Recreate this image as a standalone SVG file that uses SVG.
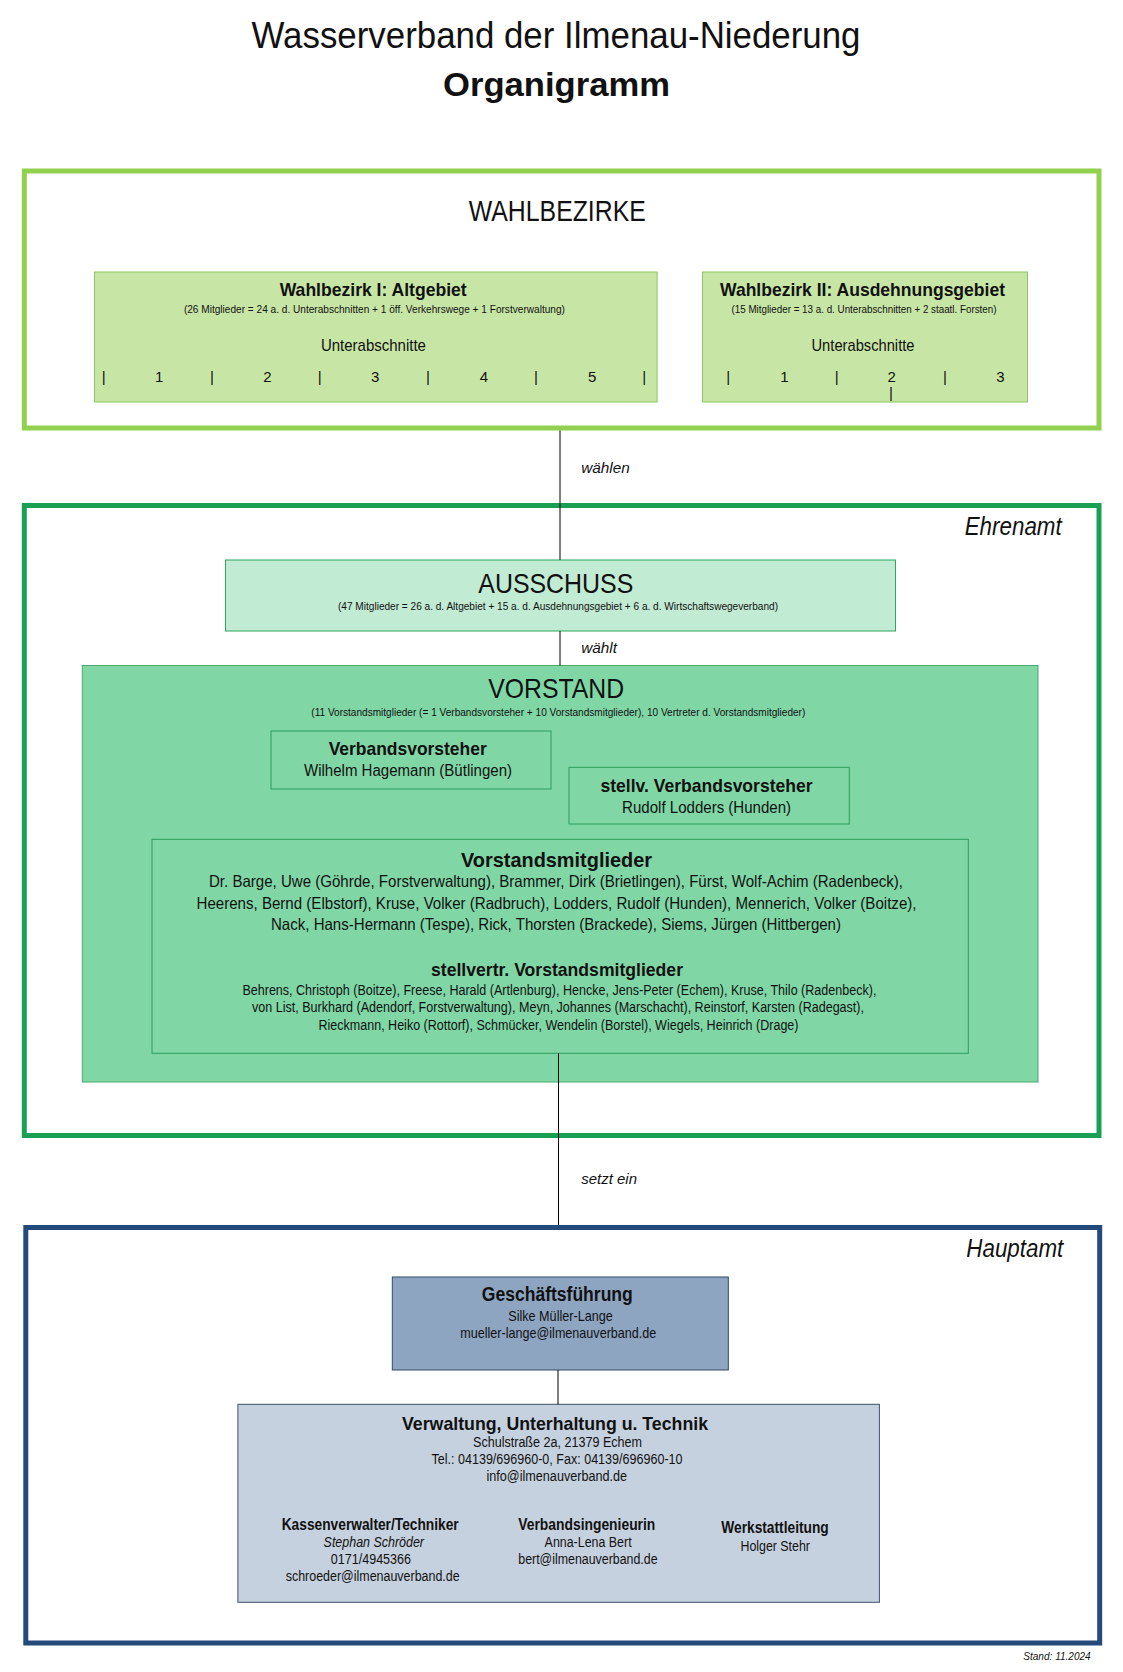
<svg xmlns="http://www.w3.org/2000/svg" width="1123" height="1672" viewBox="0 0 1123 1672">
<style>
text{font-family:"Liberation Sans",Arial,sans-serif;fill:#111;text-anchor:middle}
.b{font-weight:bold}
.i{font-style:italic}
.l{text-anchor:start}
.r{text-anchor:end}
.outer{fill:none;stroke-width:5}
.con{stroke:#000;stroke-width:1;fill:none}
.wb{fill:#C7E6A5;stroke:#8DC663;stroke-width:1}
.vb{fill:none;stroke:#2E9C5A;stroke-width:1}
</style>
<rect width="1123" height="1672" fill="#fff"/>

<g id="title">
<text x="556" y="48" font-size="37" textLength="609" lengthAdjust="spacingAndGlyphs">Wasserverband der Ilmenau-Niederung</text>
<text x="556.5" y="96" font-size="33" class="b" textLength="227" lengthAdjust="spacingAndGlyphs">Organigramm</text>
</g>

<g id="wahlbezirke">
<rect class="outer" x="24.3" y="171" width="1074.7" height="257" stroke="#92D050"/>
<text x="557.3" y="221" font-size="30" textLength="177" lengthAdjust="spacingAndGlyphs">WAHLBEZIRKE</text>
</g>

<g id="wahlbezirk1">
<rect class="wb" x="94.5" y="272" width="562.6" height="130"/>
<text x="373.2" y="296" font-size="18.5" class="b" textLength="187" lengthAdjust="spacingAndGlyphs">Wahlbezirk I: Altgebiet</text>
<text x="374.4" y="312.5" font-size="11" textLength="381" lengthAdjust="spacingAndGlyphs">(26 Mitglieder = 24 a. d. Unterabschnitten + 1 öff. Verkehrswege + 1 Forstverwaltung)</text>
<text x="373.4" y="351" font-size="17" textLength="105" lengthAdjust="spacingAndGlyphs">Unterabschnitte</text>
<g font-size="15">
<text x="103.7" y="381.5">|</text><text x="159.1" y="381.5">1</text>
<text x="211.9" y="381.5">|</text><text x="267.3" y="381.5">2</text>
<text x="319.7" y="381.5">|</text><text x="375.1" y="381.5">3</text>
<text x="427.9" y="381.5">|</text><text x="484" y="381.5">4</text>
<text x="536" y="381.5">|</text><text x="592.2" y="381.5">5</text>
<text x="644.2" y="381.5">|</text>
</g>
</g>

<g id="wahlbezirk2">
<rect class="wb" x="702.5" y="272" width="325" height="130"/>
<text x="862.5" y="296" font-size="18.5" class="b" textLength="285" lengthAdjust="spacingAndGlyphs">Wahlbezirk II: Ausdehnungsgebiet</text>
<text x="864" y="312.5" font-size="11" textLength="265" lengthAdjust="spacingAndGlyphs">(15 Mitglieder = 13 a. d. Unterabschnitten + 2 staatl. Forsten)</text>
<text x="863" y="351" font-size="17" textLength="103" lengthAdjust="spacingAndGlyphs">Unterabschnitte</text>
<g font-size="15">
<text x="728.3" y="381.5">|</text><text x="784.5" y="381.5">1</text>
<text x="836.7" y="381.5">|</text><text x="891.7" y="381.5">2</text>
<text x="945" y="381.5">|</text><text x="1000.5" y="381.5">3</text>
<text x="891" y="398">|</text>
</g>
</g>

<g id="ehrenamt">
<rect class="outer" x="24.3" y="505.5" width="1074.7" height="630" stroke="#19A052"/>
<text x="1061.7" y="535" font-size="25" class="i r" textLength="97" lengthAdjust="spacingAndGlyphs">Ehrenamt</text>
</g>

<g id="ausschuss">
<rect x="225.5" y="560" width="670" height="71" fill="#C1EBD2" stroke="#2EA55E" stroke-width="1"/>
<text x="555.8" y="593" font-size="28" textLength="155" lengthAdjust="spacingAndGlyphs">AUSSCHUSS</text>
<text x="558" y="609.5" font-size="11" textLength="440" lengthAdjust="spacingAndGlyphs">(47 Mitglieder = 26 a. d. Altgebiet + 15 a. d. Ausdehnungsgebiet + 6 a. d. Wirtschaftswegeverband)</text>
</g>

<g id="vorstand">
<rect x="82.3" y="665.5" width="955.7" height="416.5" fill="#80D7A5" stroke="#4AA86C" stroke-width="1"/>
<text x="556.2" y="698" font-size="28" textLength="136" lengthAdjust="spacingAndGlyphs">VORSTAND</text>
<text x="558.3" y="716" font-size="11" textLength="494" lengthAdjust="spacingAndGlyphs">(11 Vorstandsmitglieder (= 1 Verbandsvorsteher + 10 Vorstandsmitglieder), 10 Vertreter d. Vorstandsmitglieder)</text>
</g>

<g id="verbandsvorsteher">
<rect class="vb" x="271" y="731" width="280" height="58"/>
<text x="407.7" y="755" font-size="18.5" class="b" textLength="158" lengthAdjust="spacingAndGlyphs">Verbandsvorsteher</text>
<text x="408" y="775.5" font-size="16" textLength="208" lengthAdjust="spacingAndGlyphs">Wilhelm Hagemann (Bütlingen)</text>
</g>

<g id="stellv-verbandsvorsteher">
<rect class="vb" x="569" y="767.3" width="280.3" height="56.7"/>
<text x="706.5" y="791.5" font-size="18.5" class="b" textLength="212" lengthAdjust="spacingAndGlyphs">stellv. Verbandsvorsteher</text>
<text x="706.6" y="812.5" font-size="16" textLength="169" lengthAdjust="spacingAndGlyphs">Rudolf Lodders (Hunden)</text>
</g>

<g id="vorstandsmitglieder">
<rect class="vb" x="152" y="839.3" width="816.3" height="214"/>
<text x="556.5" y="866.5" font-size="20.5" class="b" textLength="191" lengthAdjust="spacingAndGlyphs">Vorstandsmitglieder</text>
<text x="556" y="887" font-size="16.5" textLength="694" lengthAdjust="spacingAndGlyphs">Dr. Barge, Uwe (Göhrde, Forstverwaltung), Brammer, Dirk (Brietlingen), Fürst, Wolf-Achim (Radenbeck),</text>
<text x="556.5" y="908.5" font-size="16.5" textLength="720" lengthAdjust="spacingAndGlyphs">Heerens, Bernd (Elbstorf), Kruse, Volker (Radbruch), Lodders, Rudolf (Hunden), Mennerich, Volker (Boitze),</text>
<text x="556" y="930" font-size="16.5" textLength="570" lengthAdjust="spacingAndGlyphs">Nack, Hans-Hermann (Tespe), Rick, Thorsten (Brackede), Siems, Jürgen (Hittbergen)</text>
<text x="557" y="976" font-size="19" class="b" textLength="252" lengthAdjust="spacingAndGlyphs">stellvertr. Vorstandsmitglieder</text>
<text x="559.4" y="994.5" font-size="14" textLength="634" lengthAdjust="spacingAndGlyphs">Behrens, Christoph (Boitze), Freese, Harald (Artlenburg), Hencke, Jens-Peter (Echem), Kruse, Thilo (Radenbeck),</text>
<text x="558" y="1011.5" font-size="14" textLength="612" lengthAdjust="spacingAndGlyphs">von List, Burkhard (Adendorf, Forstverwaltung), Meyn, Johannes (Marschacht), Reinstorf, Karsten (Radegast),</text>
<text x="558.5" y="1029.5" font-size="14" textLength="480" lengthAdjust="spacingAndGlyphs">Rieckmann, Heiko (Rottorf), Schmücker, Wendelin (Borstel), Wiegels, Heinrich (Drage)</text>
</g>

<g id="hauptamt">
<rect class="outer" x="25.8" y="1227.5" width="1073.9" height="415.5" stroke="#234A78" stroke-width="5.5"/>
<text x="1063.3" y="1256.5" font-size="25" class="i r" textLength="97" lengthAdjust="spacingAndGlyphs">Hauptamt</text>
</g>

<g id="geschaeftsfuehrung">
<rect x="392.3" y="1277" width="336" height="93" fill="#8EA5C1" stroke="#2E4A6A" stroke-width="1"/>
<text x="557.3" y="1301" font-size="20" class="b" textLength="151" lengthAdjust="spacingAndGlyphs">Geschäftsführung</text>
<text x="560.5" y="1320.5" font-size="14.5" textLength="104.5" lengthAdjust="spacingAndGlyphs">Silke Müller-Lange</text>
<text x="558.3" y="1337.5" font-size="14.5" textLength="196" lengthAdjust="spacingAndGlyphs">mueller-lange@ilmenauverband.de</text>
</g>

<g id="verwaltung">
<rect x="237.9" y="1404.3" width="641.5" height="198" fill="#C6D1DF" stroke="#3D5169" stroke-width="1"/>
<text x="555" y="1430" font-size="18.5" class="b" textLength="306" lengthAdjust="spacingAndGlyphs">Verwaltung, Unterhaltung u. Technik</text>
<text x="557.5" y="1446.5" font-size="14" textLength="169" lengthAdjust="spacingAndGlyphs">Schulstraße 2a, 21379 Echem</text>
<text x="557" y="1463.5" font-size="14" textLength="251" lengthAdjust="spacingAndGlyphs">Tel.: 04139/696960-0, Fax: 04139/696960-10</text>
<text x="556.8" y="1481" font-size="14" textLength="140.6" lengthAdjust="spacingAndGlyphs">info@ilmenauverband.de</text>
<text x="370.2" y="1530" font-size="16" class="b" textLength="177" lengthAdjust="spacingAndGlyphs">Kassenverwalter/Techniker</text>
<text x="373.8" y="1547" font-size="14" class="i" textLength="100.4" lengthAdjust="spacingAndGlyphs">Stephan Schröder</text>
<text x="370.9" y="1564" font-size="14" textLength="80.3" lengthAdjust="spacingAndGlyphs">0171/4945366</text>
<text x="372.7" y="1581" font-size="14" textLength="174" lengthAdjust="spacingAndGlyphs">schroeder@ilmenauverband.de</text>
<text x="586.8" y="1530" font-size="16" class="b" textLength="137" lengthAdjust="spacingAndGlyphs">Verbandsingenieurin</text>
<text x="588.1" y="1547" font-size="14" textLength="87" lengthAdjust="spacingAndGlyphs">Anna-Lena Bert</text>
<text x="587.9" y="1564" font-size="14" textLength="139.3" lengthAdjust="spacingAndGlyphs">bert@ilmenauverband.de</text>
<text x="775" y="1533.3" font-size="16" class="b" textLength="107.5" lengthAdjust="spacingAndGlyphs">Werkstattleitung</text>
<text x="775.2" y="1550.5" font-size="14" textLength="69.5" lengthAdjust="spacingAndGlyphs">Holger Stehr</text>
</g>

<g id="connectors">
<line class="con" x1="560" y1="430.5" x2="560" y2="560"/>
<line class="con" x1="560" y1="631" x2="560" y2="665.5"/>
<line class="con" x1="558.5" y1="1053.3" x2="558.5" y2="1225"/>
<line class="con" x1="558" y1="1370" x2="558" y2="1404.3"/>
<text x="581.2" y="473" font-size="15" class="i l" textLength="48.7" lengthAdjust="spacingAndGlyphs">wählen</text>
<text x="581.2" y="653" font-size="15" class="i l" textLength="35.8" lengthAdjust="spacingAndGlyphs">wählt</text>
<text x="581.2" y="1184" font-size="15" class="i l" textLength="55.8" lengthAdjust="spacingAndGlyphs">setzt ein</text>
</g>

<text x="1090.7" y="1660" font-size="11" class="i r" textLength="67.4" lengthAdjust="spacingAndGlyphs">Stand: 11.2024</text>
</svg>
